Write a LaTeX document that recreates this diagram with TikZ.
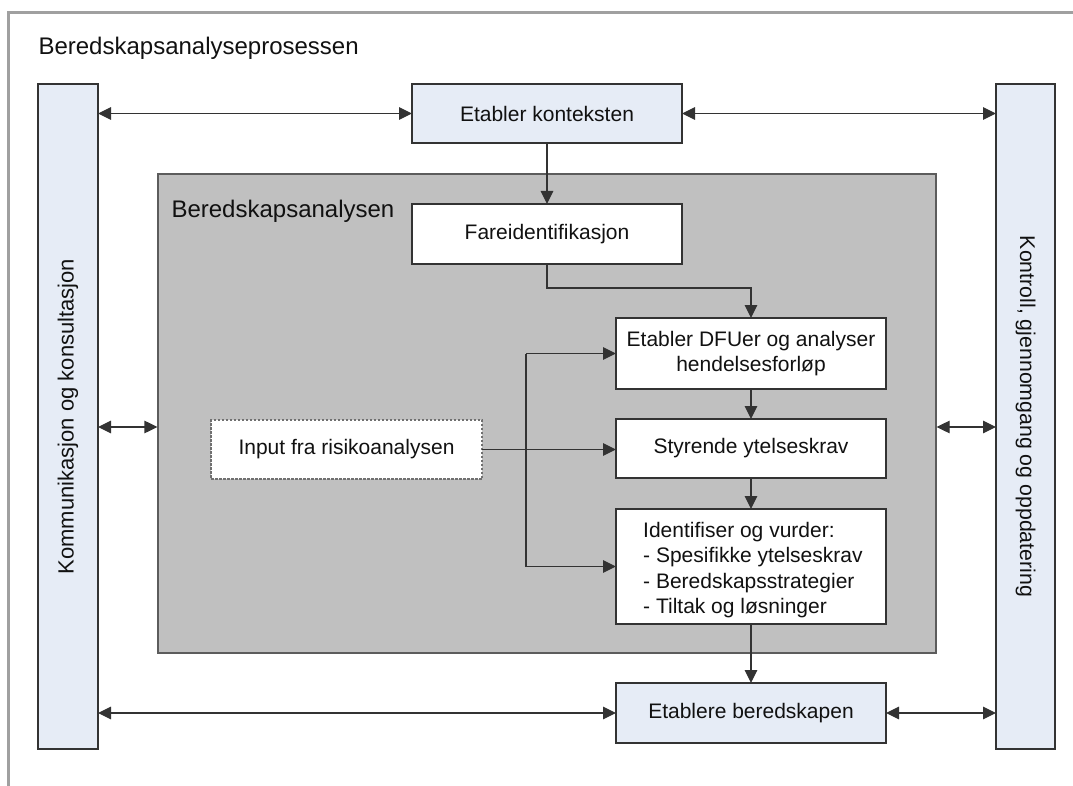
\documentclass[tikz,border=0pt]{standalone}
\usepackage{fontspec}
\setmainfont{Liberation Sans}
\usetikzlibrary{arrows.meta}
\definecolor{frame}{HTML}{A0A0A0}
\definecolor{paleblue}{HTML}{E6ECF6}
\definecolor{panel}{HTML}{C0C0C0}
\definecolor{edge}{HTML}{333333}
\definecolor{ink}{HTML}{111111}
\tikzset{
  body/.style={font=\fontsize{21}{25.3}\selectfont, text=ink},
  box/.style={body, draw=edge, line width=1.2pt, inner sep=0pt, outer sep=0pt, align=center},
  bluebox/.style={box, fill=paleblue},
  whitebox/.style={box, fill=white},
  conn/.style={draw=edge, line width=1.2pt},
  arr/.style={conn, -{Triangle[length=13pt,width=12.5pt]}},
  dbl/.style={conn, {Triangle[length=13pt,width=12.5pt]}-{Triangle[length=13pt,width=12.5pt]}},
}
\begin{document}
\begin{tikzpicture}[x=1pt,y=-1pt]
\useasboundingbox (0,0) rectangle (1073,786);
% outer frame, open towards the right and bottom
\draw[frame, line width=3pt] (8.5,800) -- (8.5,12.5) -- (1090,12.5);
\node[anchor=base west, font=\fontsize{24}{28}\selectfont, text=ink] (title) at (35,54.5) {Beredskapsanalyseprosessen};

% side columns
\node[bluebox, minimum width=60pt, minimum height=665pt] (kom) at (68,416.5) {};
\node[body, rotate=90, font=\fontsize{22}{26}\selectfont] (komtxt) at (kom.center) {Kommunikasjon og konsultasjon};
\node[bluebox, minimum width=59pt, minimum height=665pt] (kon) at (1025.5,416.5) {};
\node[body, rotate=-90, font=\fontsize{21.3}{26}\selectfont] (kontxt) at (kon.center) {Kontroll, gjennomgang og oppdatering};

% top and bottom steps
\node[bluebox, minimum width=270pt, minimum height=59pt] (ek) at (547,113.5) {Etabler konteksten};
\node[bluebox, minimum width=270pt, minimum height=60pt] (eb) at (751,713) {Etablere beredskapen};

% analysis panel
\node[draw=edge!80, fill=panel, line width=1.2pt, minimum width=778pt, minimum height=479pt, inner sep=0pt] (panel) at (547,413.5) {};
\node[anchor=base west, font=\fontsize{24}{28}\selectfont, text=ink] (paneltitle) at (168,217.5) {Beredskapsanalysen};

\node[whitebox, minimum width=270pt, minimum height=60pt] (fare) at (547,234) {Fareidentifikasjon};
\node[whitebox, minimum width=270pt, minimum height=71pt] (dfu) at (751,353.5) {Etabler DFUer og analyser\\hendelsesforløp};
\node[whitebox, minimum width=270pt, minimum height=59pt] (sty) at (751,448.5) {Styrende ytelseskrav};
\node[whitebox, minimum width=270pt, minimum height=115pt] (idv) at (751,566.5) {};
\node[body, anchor=west, align=left, inner sep=0pt] (idvtxt) at (643,570)
  {Identifiser og vurder:\\- Spesifikke ytelseskrav\\- Beredskapsstrategier\\- Tiltak og løsninger};
\node[box, fill=white, draw=edge!70, dash pattern=on 2.5pt off 1.5pt, minimum width=271pt, minimum height=59pt] (inp) at (346.5,449.5) {Input fra risikoanalysen};

% exchange with the side columns
\draw[dbl] (kom.east |- ek.west) -- (ek.west);
\draw[dbl] (ek.east) -- (kon.west |- ek.east);
\coordinate (mid) at (0,427);
\draw[dbl] (kom.east |- mid) -- (panel.west |- mid);
\draw[dbl] (panel.east |- mid) -- (kon.west |- mid);
\draw[dbl] (kom.east |- eb.west) -- (eb.west);
\draw[dbl] (eb.east) -- (kon.west |- eb.east);

% main flow
\draw[arr] (ek.south) -- (fare.north);
\draw[arr] (fare.south) -- ++(0,24) -| (dfu.north);
\draw[arr] (dfu.south) -- (sty.north);
\draw[arr] (sty.south) -- (idv.north);
\draw[arr] (idv.south) -- (eb.north);

% input from the risk analysis
\coordinate (bus) at (526,0);
\draw[arr] (inp.east) -- (sty.west |- inp.east);
\draw[conn] (bus |- dfu.west) -- (bus |- idv.west);
\draw[arr] (bus |- dfu.west) -- (dfu.west);
\draw[arr] (bus |- idv.west) -- (idv.west);
\end{tikzpicture}
\end{document}
